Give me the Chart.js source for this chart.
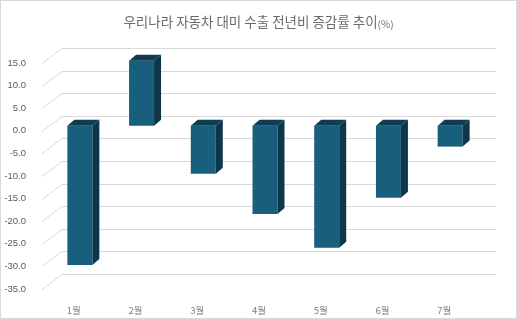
<!DOCTYPE html>
<html>
<head>
<meta charset="utf-8">
<script src="https://cdn.jsdelivr.net/npm/chart.js@4"></script>
<style>
  html, body { margin: 0; padding: 0; background: #fff; }
  #wrap { position: relative; width: 517px; height: 319px; }
  #frame { position: absolute; left: 0; top: 0; right: 0; bottom: 0; border: 1px solid #d9d9d9; pointer-events: none; }
</style>
</head>
<body>
<div id="wrap">
  <canvas id="chart"></canvas>
  <div id="frame"></div>
</div>
<script>
const titleMain = "우리나라 자동차 대미 수출 전년비 증감률 추이";
const titleUnit = "(%)";
const months = ["1월", "2월", "3월", "4월", "5월", "6월", "7월"];
const changeRates = [-30.8, 14.4, -10.6, -19.5, -27.0, -15.9, -4.6];
const yMin = -35;
const yMax = 15;
const yStep = 5;

const frontColor = "#185e7d";
const topColor = "#0f3d54";
const sideColor = "#0c3649";
const gridColor = "#d9d9d9";
const depthX = 7;
const depthY = 6;
const barShift = -5;

// title with a smaller unit suffix
const titlePlugin = {
  id: "titleText",
  afterDraw(chart) {
    const ctx = chart.ctx;
    ctx.save();
    ctx.fillStyle = "#6b6b6b";
    ctx.textBaseline = "middle";
    const bigFont = "13.5px 'Noto Sans CJK KR', 'Noto Sans', sans-serif";
    const smallFont = "10px 'Noto Sans CJK KR', 'Noto Sans', sans-serif";
    ctx.font = bigFont;
    const w1 = ctx.measureText(titleMain).width;
    ctx.font = smallFont;
    const w2 = ctx.measureText(titleUnit).width;
    const x0 = chart.width / 2 - (w1 + w2) / 2;
    ctx.font = bigFont;
    ctx.textAlign = "left";
    ctx.fillText(titleMain, x0, 22);
    ctx.font = smallFont;
    ctx.fillText(titleUnit, x0 + w1, 24);
    ctx.restore();
  }
};

// floor-to-wall gridlines like a 3D chart
const wallGrid = {
  id: "wallGrid",
  beforeDatasetsDraw(chart) {
    const ctx = chart.ctx;
    const y = chart.scales.y;
    const area = chart.chartArea;
    ctx.save();
    ctx.strokeStyle = gridColor;
    ctx.lineWidth = 1;
    y.ticks.forEach((t) => {
      const py = Math.round(y.getPixelForValue(t.value)) + 0.5;
      ctx.beginPath();
      ctx.moveTo(area.left - 7, py);
      ctx.lineTo(area.left + 13, py - 15);
      ctx.lineTo(area.right + 15, py - 15);
      ctx.stroke();
    });
    ctx.restore();
  }
};

// shift the bars and add top / side faces
const boxBars = {
  id: "boxBars",
  beforeDatasetsDraw(chart) {
    chart.ctx.save();
    chart.ctx.translate(0, barShift);
  },
  afterDatasetsDraw(chart) {
    const ctx = chart.ctx;
    const meta = chart.getDatasetMeta(0);
    meta.data.forEach((bar) => {
      const p = bar.getProps(["x", "y", "base", "width"], true);
      const l = p.x - p.width / 2;
      const r = p.x + p.width / 2;
      const top = Math.min(p.y, p.base);
      const bottom = Math.max(p.y, p.base);
      ctx.fillStyle = topColor;
      ctx.beginPath();
      ctx.moveTo(l, top);
      ctx.lineTo(l + depthX, top - depthY);
      ctx.lineTo(r + depthX, top - depthY);
      ctx.lineTo(r, top);
      ctx.closePath();
      ctx.fill();
      ctx.fillStyle = sideColor;
      ctx.beginPath();
      ctx.moveTo(r, top);
      ctx.lineTo(r + depthX, top - depthY);
      ctx.lineTo(r + depthX, bottom - depthY);
      ctx.lineTo(r, bottom);
      ctx.closePath();
      ctx.fill();
    });
    ctx.restore();
  }
};

new Chart(document.getElementById("chart"), {
  type: "bar",
  data: {
    labels: months,
    datasets: [
      {
        data: changeRates,
        backgroundColor: frontColor,
        borderWidth: 0,
        barPercentage: 0.405,
        categoryPercentage: 1
      }
    ]
  },
  options: {
    responsive: true,
    maintainAspectRatio: false,
    animation: false,
    layout: {
      padding: { top: 63, right: 36, bottom: 0, left: 0 }
    },
    plugins: {
      legend: { display: false },
      title: { display: false },
      tooltip: { enabled: false }
    },
    scales: {
      x: {
        grid: { display: false },
        border: { display: false },
        ticks: {
          color: "#7f7f7f",
          padding: 8,
          labelOffset: -6,
          font: { family: "'Noto Sans CJK KR', 'Noto Sans', sans-serif", size: 9.5 }
        },
        afterFit(scale) {
          scale.height = 30;
        }
      },
      y: {
        min: yMin,
        max: yMax,
        grid: { display: false },
        border: { display: false },
        ticks: {
          stepSize: yStep,
          color: "#595959",
          padding: 15,
          font: { family: "'Liberation Sans', Arial, sans-serif", size: 9.5 },
          callback(value) {
            return Number(value).toFixed(1);
          }
        },
        afterFit(scale) {
          scale.width = 49;
        }
      }
    }
  },
  plugins: [wallGrid, boxBars, titlePlugin]
});
</script>
</body>
</html>
